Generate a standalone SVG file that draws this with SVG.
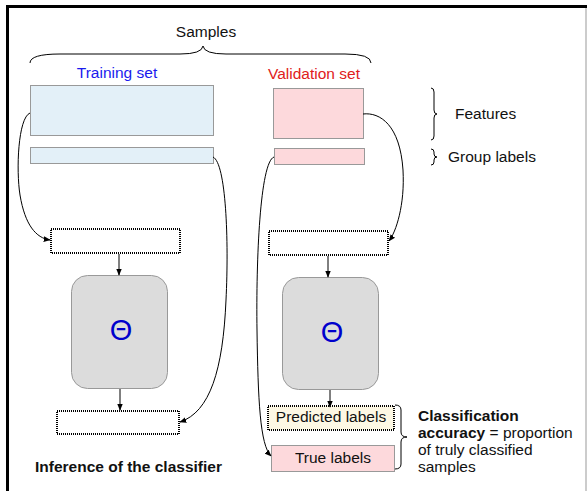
<svg xmlns="http://www.w3.org/2000/svg" width="587" height="491" viewBox="0 0 587 491">
<defs>
<marker id="ah" viewBox="0 0 10 10" refX="9" refY="5" markerWidth="7" markerHeight="7" orient="auto" markerUnits="userSpaceOnUse">
<path d="M0,1 L10,5 L0,9 Z" fill="#000"/>
</marker>
<style>
text{font-family:"Liberation Sans",Arial,sans-serif;font-size:15.5px;fill:#111}
.b{font-weight:bold}
.blue{fill:#e3f0f8;stroke:#999;stroke-width:1}
.pink{fill:#fdd9dc;stroke:#999;stroke-width:1}
.dot{fill:#fff;stroke:#000;stroke-width:2;stroke-dasharray:1 1}
.cream{fill:#fdf8e4;stroke:#000;stroke-width:2;stroke-dasharray:1 1}
.clf{fill:#dcdcdc;stroke:#999;stroke-width:1}
.theta{font-size:29px;fill:#0000cc;text-anchor:middle}
.br{fill:none;stroke:#000;stroke-width:1}
.cn{fill:none;stroke:#000;stroke-width:1;marker-end:url(#ah)}
</style>
</defs>
<rect width="587" height="491" fill="#fff"/>
<g id="frame">
<line x1="586" y1="6" x2="586" y2="491" stroke="#999" stroke-width="1"/>
<line x1="6" y1="6.5" x2="587" y2="6.5" stroke="#000" stroke-width="3"/>
<line x1="7.5" y1="5" x2="7.5" y2="491" stroke="#000" stroke-width="3"/>
</g>
<g id="samples">
<text x="206" y="37" text-anchor="middle">Samples</text>
<path class="br" d="M30,63 Q30,54 60,54 L180,54 Q202,54 203,46 Q204,54 226,54 L345,54 Q371,54 371,63"/>
</g>
<g id="training-title"><text x="117" y="78" text-anchor="middle" style="fill:#1a1aee">Training set</text></g>
<g id="validation-title"><text x="314" y="79" text-anchor="middle" style="fill:#e02020">Validation set</text></g>
<g id="train-features"><rect class="blue" x="30.5" y="85.5" width="183" height="50"/></g>
<g id="train-labels"><rect class="blue" x="30.5" y="147.5" width="183" height="16"/></g>
<g id="val-features"><rect class="pink" x="273.5" y="88.5" width="90" height="50"/></g>
<g id="val-labels"><rect class="pink" x="274.5" y="148.5" width="90" height="16"/></g>
<g id="features-label">
<path class="br" d="M431,88 Q434,88 434,92 L434,110 Q434,114 437,114 Q434,114 434,118 L434,136 Q434,140 431,140"/>
<text x="455" y="119">Features</text>
</g>
<g id="group-labels-label">
<path class="br" d="M431,149 Q434,149 434,152 L434,154 Q434,157 437,157 Q434,157 434,160 L434,162 Q434,165 431,165"/>
<text x="448" y="162">Group labels</text>
</g>
<g id="train-input"><rect class="dot" x="51" y="229" width="129" height="24"/></g>
<g id="train-classifier">
<rect class="clf" x="71.5" y="275.5" width="96" height="113" rx="16"/>
<text class="theta" x="121" y="340">Θ</text>
</g>
<g id="train-output"><rect class="dot" x="57" y="411" width="122" height="23"/></g>
<g id="inference-label"><text class="b" x="35" y="472">Inference of the classifier</text></g>
<g id="val-input"><rect class="dot" x="269" y="231" width="119" height="24"/></g>
<g id="val-classifier">
<rect class="clf" x="282.5" y="277.5" width="96" height="112" rx="16"/>
<text class="theta" x="332" y="342">Θ</text>
</g>
<g id="predicted-labels">
<rect class="cream" x="268" y="406" width="126" height="24"/>
<text x="331" y="422" text-anchor="middle">Predicted labels</text>
</g>
<g id="true-labels">
<rect class="pink" x="271.5" y="445.5" width="123" height="26"/>
<text x="333" y="463" text-anchor="middle">True labels</text>
</g>
<g id="accuracy">
<path class="br" d="M395,405 Q401,405 401,410 L401,432 Q401,437 407,437 Q401,437 401,442 L401,464 Q401,469 395,469"/>
<text x="418" y="421" class="b">Classification</text>
<text x="418" y="438"><tspan class="b">accuracy</tspan> = proportion</text>
<text x="418" y="455">of truly classified</text>
<text x="418" y="472">samples</text>
</g>
<g id="connectors">
<path class="cn" d="M30,113 C18,118 16,170 20,195 C25,225 36,238 50,240"/>
<path class="cn" d="M213,157 C226,163 229,240 226,300 C223,370 210,412 180,422"/>
<path class="cn" d="M363,114 C380,112 400,125 403,170 C405,205 396,232 389,241"/>
<path class="cn" d="M274,157 C260,162 256,260 257,330 C258,400 260,445 271,456"/>
<path class="cn" d="M119,254 L119,275"/>
<path class="cn" d="M328,256 L328,277"/>
<path class="cn" d="M120,389 L120,410"/>
<path class="cn" d="M330,390 L330,407"/>
</g>
</svg>
